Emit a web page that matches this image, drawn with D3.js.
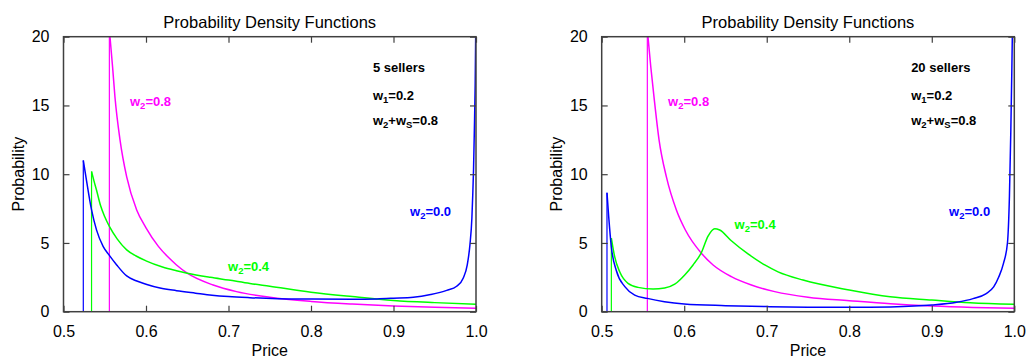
<!DOCTYPE html>
<html>
<head>
<meta charset="utf-8">
<script src="https://cdn.jsdelivr.net/npm/d3@7"></script>
<style>
  body { margin: 0; background: #fff; }
  svg { display: block; }
  text { font-family: "Liberation Sans", Arial, Helvetica, sans-serif; }
</style>
</head>
<body>
<svg id="chart" width="1026" height="360"></svg>
<script>
// Axis ticks
const priceTicks = [0.5, 0.6, 0.7, 0.8, 0.9, 1.0];
const probTicks = [0, 5, 10, 15, 20];

// Density curves, [price, probability]; first point is the lower bound of support
const sellers5_w00 = [[0.524,11.0],[0.528,9.5],[0.534,7.4],[0.540,5.95],[0.548,4.75],[0.5556,4.1],[0.5645,3.4],[0.5766,2.6],[0.588,2.25],[0.6,2.0],[0.617,1.72],[0.637,1.53],[0.66,1.35],[0.68,1.2],[0.7,1.1],[0.726,1.02],[0.76,0.95],[0.8,0.92],[0.85,0.9],[0.88,0.93],[0.9,0.98],[0.924,1.05],[0.945,1.25],[0.9645,1.55],[0.9766,1.85],[0.9846,2.45],[0.9894,3.4],[0.9927,4.9],[0.995,6.8],[0.996,8.4],[0.997,10.3],[0.998,13.2],[0.999,16.5],[0.9996,20]];
const sellers5_w04 = [[0.534,10.2],[0.537,9.5],[0.540,8.85],[0.545,7.7],[0.550,6.9],[0.5556,6.2],[0.565,5.3],[0.5766,4.5],[0.588,4.05],[0.6,3.7],[0.62,3.25],[0.637,2.98],[0.65,2.8],[0.678,2.5],[0.7,2.3],[0.726,2.05],[0.75,1.85],[0.8,1.42],[0.85,1.1],[0.9,0.82],[0.95,0.66],[1.0,0.54]];
const sellers5_w08 = [[0.5556,20.5],[0.5595,17.8],[0.5624,15.6],[0.5685,12.5],[0.5766,9.8],[0.5887,7.4],[0.6,6.1],[0.615,4.75],[0.628,3.9],[0.637,3.4],[0.65,2.8],[0.6814,1.94],[0.7097,1.46],[0.75,1.05],[0.8,0.75],[0.85,0.56],[0.9,0.42],[0.95,0.32],[1.0,0.25]];

const sellers20_w00 = [[0.5064,8.65],[0.5085,6.9],[0.5117,4.7],[0.5177,3.0],[0.528,1.82],[0.54,1.21],[0.5553,0.97],[0.576,0.73],[0.6,0.56],[0.65,0.44],[0.7,0.37],[0.75,0.33],[0.8,0.32],[0.85,0.35],[0.9,0.48],[0.93,0.68],[0.95,0.95],[0.9655,1.3],[0.975,1.8],[0.981,2.5],[0.9868,3.5],[0.9917,5.0],[0.9941,8.4],[0.9958,13.2],[0.997,17.5],[0.9976,20]];
const sellers20_w04 = [[0.5117,5.35],[0.5157,4.0],[0.5218,2.9],[0.5319,2.06],[0.544,1.77],[0.5622,1.65],[0.5763,1.72],[0.5885,2.0],[0.6006,2.67],[0.6107,3.4],[0.6208,4.3],[0.6289,5.5],[0.637,6.04],[0.643,5.94],[0.6571,5.16],[0.6773,4.2],[0.6976,3.4],[0.7137,2.9],[0.744,2.3],[0.8,1.58],[0.8495,1.09],[0.9,0.85],[0.9465,0.65],[1.0,0.54]];
const sellers20_w08 = [[0.5553,20.5],[0.5595,17.8],[0.5634,15.6],[0.5695,12.5],[0.5784,9.8],[0.5905,7.4],[0.6014,5.94],[0.6208,4.25],[0.635,3.4],[0.6571,2.55],[0.6814,1.94],[0.7097,1.46],[0.75,1.05],[0.8,0.8],[0.85,0.57],[0.9,0.41],[0.95,0.31],[1.0,0.25]];

// Panel text
const panelTitles = ["Probability Density Functions", "Probability Density Functions"];
const sellerLabels = ["5 sellers", "20 sellers"];
const weightLabels = ["0.0", "0.4", "0.8"];

const colors = { w00: "#0000ff", w04: "#00ff00", w08: "#ff00ff" };

const panels = [
  {
    x0: 63.5, x1: 476, id: "p5",
    series: [
      { key: "w08", data: sellers5_w08, label: weightLabels[2], at: [0.5806, 14.95] },
      { key: "w04", data: sellers5_w04, label: weightLabels[1], at: [0.6994, 2.95] },
      { key: "w00", data: sellers5_w00, label: weightLabels[0], at: [0.92, 6.95] }
    ],
    title: panelTitles[0], sellers: sellerLabels[0]
  },
  {
    x0: 601.7, x1: 1014.3, id: "p20",
    series: [
      { key: "w08", data: sellers20_w08, label: weightLabels[2], at: [0.5804, 14.95] },
      { key: "w04", data: sellers20_w04, label: weightLabels[1], at: [0.661, 6.0] },
      { key: "w00", data: sellers20_w00, label: weightLabels[0], at: [0.921, 6.95] }
    ],
    title: panelTitles[1], sellers: sellerLabels[1]
  }
];

const svg = d3.select("#chart");
const yTop = 36.7, yBottom = 311.7;
const frameColor = "#404040";

panels.forEach(p => {
  const x = d3.scaleLinear().domain([0.5, 1.0]).range([p.x0, p.x1]);
  const y = d3.scaleLinear().domain([0, 20]).range([yBottom, yTop]);
  const g = svg.append("g");

  g.append("clipPath").attr("id", "clip-" + p.id)
    .append("rect")
    .attr("x", p.x0).attr("y", yTop)
    .attr("width", p.x1 - p.x0).attr("height", yBottom - yTop);

  // Curves
  const plot = g.append("g").attr("clip-path", `url(#clip-${p.id})`);
  const line = d3.line().x(d => x(d[0])).y(d => y(d[1])).curve(d3.curveMonotoneX);
  p.series.forEach(s => {
    const first = s.data[0];
    // vertical drop at the lower bound of the support
    plot.append("line")
      .attr("x1", x(first[0])).attr("x2", x(first[0]))
      .attr("y1", y(0)).attr("y2", y(first[1]))
      .attr("stroke", colors[s.key]).attr("stroke-width", 1.2);
    plot.append("path")
      .datum(s.data)
      .attr("d", line)
      .attr("fill", "none")
      .attr("stroke", colors[s.key])
      .attr("stroke-width", 1.5);
  });

  // Axes with inward ticks on all four sides
  const tickLen = 6;
  const bottom = d3.axisBottom(x).tickValues(priceTicks).tickFormat(d3.format(".1f"))
    .tickSizeInner(-tickLen).tickSizeOuter(0).tickPadding(14);
  const top = d3.axisTop(x).tickValues(priceTicks).tickFormat("")
    .tickSizeInner(-tickLen).tickSizeOuter(0);
  const left = d3.axisLeft(y).tickValues(probTicks).tickFormat(d3.format("d"))
    .tickSizeInner(-tickLen).tickSizeOuter(0).tickPadding(14);
  const right = d3.axisRight(y).tickValues(probTicks).tickFormat("")
    .tickSizeInner(-tickLen).tickSizeOuter(0);

  const styleAxis = sel => {
    sel.select(".domain").remove();
    sel.selectAll(".tick line").attr("stroke", frameColor).attr("stroke-width", 1.2);
    sel.selectAll(".tick text").attr("fill", "#000").style("font-size", "16px")
      .style("font-family", '"Liberation Sans", Arial, sans-serif');
  };
  g.append("g").attr("transform", `translate(0,${yBottom})`).call(bottom).call(styleAxis);
  g.append("g").attr("transform", `translate(0,${yTop})`).call(top).call(styleAxis);
  g.append("g").attr("transform", `translate(${p.x0},0)`).call(left).call(styleAxis);
  g.append("g").attr("transform", `translate(${p.x1},0)`).call(right).call(styleAxis);

  g.append("rect")
    .attr("x", p.x0).attr("y", yTop)
    .attr("width", p.x1 - p.x0).attr("height", yBottom - yTop)
    .attr("fill", "none").attr("stroke", frameColor).attr("stroke-width", 1.5);

  // Title and axis titles
  const cx = (p.x0 + p.x1) / 2;
  g.append("text").attr("x", cx).attr("y", 28)
    .attr("text-anchor", "middle").style("font-size", "16.5px").text(p.title);
  g.append("text").attr("x", cx).attr("y", 356)
    .attr("text-anchor", "middle").style("font-size", "16px").text("Price");
  g.append("text")
    .attr("transform", `translate(${p.x0 - 39.5},${(yTop + yBottom) / 2}) rotate(-90)`)
    .attr("text-anchor", "middle").style("font-size", "16px").text("Probability");

  // Series labels, w2=...
  p.series.forEach(s => {
    const t = g.append("text")
      .attr("x", x(s.at[0])).attr("y", y(s.at[1]))
      .attr("fill", colors[s.key])
      .style("font-size", "13px").style("font-weight", "bold");
    t.append("tspan").text("w");
    t.append("tspan").attr("dy", 3).style("font-size", "9.5px").text("2");
    t.append("tspan").attr("dy", -3).text("=" + s.label);
  });

  // Parameter block
  const ax = x(0.875);
  const info = g.append("g").style("font-size", "13px").style("font-weight", "bold");
  info.append("text").attr("x", ax).attr("y", y(17.43)).text(p.sellers);
  const t1 = info.append("text").attr("x", ax).attr("y", y(15.43));
  t1.append("tspan").text("w");
  t1.append("tspan").attr("dy", 3).style("font-size", "9.5px").text("1");
  t1.append("tspan").attr("dy", -3).text("=0.2");
  const t2 = info.append("text").attr("x", ax).attr("y", y(13.58));
  t2.append("tspan").text("w");
  t2.append("tspan").attr("dy", 3).style("font-size", "9.5px").text("2");
  t2.append("tspan").attr("dy", -3).text("+w");
  t2.append("tspan").attr("dy", 3).style("font-size", "9.5px").text("S");
  t2.append("tspan").attr("dy", -3).text("=0.8");
});
</script>
</body>
</html>
